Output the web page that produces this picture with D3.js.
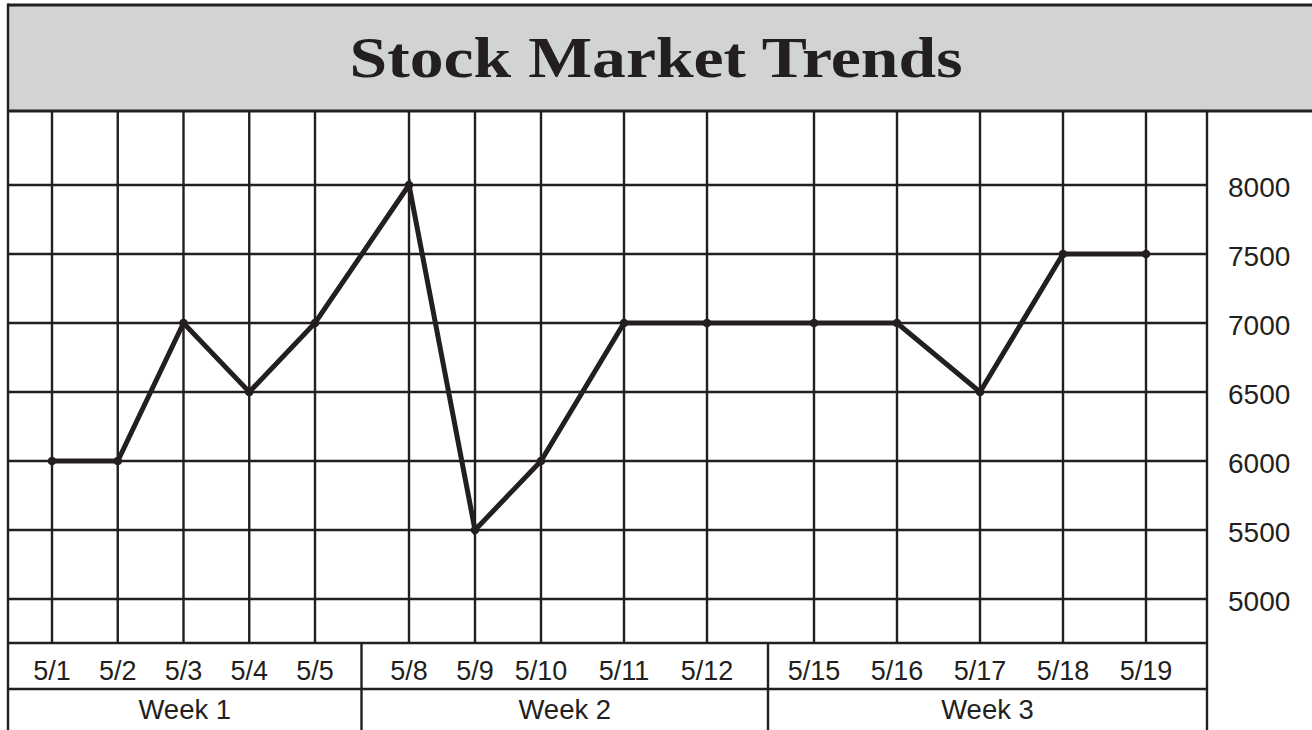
<!DOCTYPE html>
<html>
<head>
<meta charset="utf-8">
<script src="https://cdn.jsdelivr.net/npm/d3@7"></script>
<style>
  html, body { margin: 0; padding: 0; background: #ffffff; }
  svg { display: block; }
</style>
</head>
<body>
<svg id="chart" width="1312" height="730"></svg>
<script>
// ---- data ----
const title = "Stock Market Trends";
const dates = ["5/1", "5/2", "5/3", "5/4", "5/5",
               "5/8", "5/9", "5/10", "5/11", "5/12",
               "5/15", "5/16", "5/17", "5/18", "5/19"];
const values = [6000, 6000, 7000, 6500, 7000,
                8000, 5500, 6000, 7000, 7000,
                7000, 7000, 6500, 7500, 7500];
const weeks = ["Week 1", "Week 2", "Week 3"];
const yTicks = [5000, 5500, 6000, 6500, 7000, 7500, 8000];

// ---- layout ----
const W = 1312, H = 730;
const ink = "#231f20";
const band = "#d1d3d4";
const frameLeft = 8, frameTop = 5;
const titleBottom = 111;
const plotRight = 1207, plotBottom = 643;
const dateRowBottom = 689;
const weekEdges = [frameLeft, 361.5, 768, plotRight];
const gridW = 2.4;

const svg = d3.select("#chart");

// day positions along the sheet: the first two weeks are tighter than the last
const x = d3.scaleLinear()
  .domain([0, 4, 5, 7, 9, 10, 14])
  .range([52, 315, 409, 541, 707, 814, 1146]);
const y = d3.scaleLinear()
  .domain([5000, 8000])
  .range([599, 185]);

// title band
svg.append("rect")
  .attr("x", frameLeft).attr("y", frameTop)
  .attr("width", W - frameLeft).attr("height", titleBottom - frameTop)
  .attr("fill", band);

svg.append("text")
  .attr("x", W / 2).attr("y", 77)
  .attr("text-anchor", "middle")
  .attr("font-family", "'Liberation Serif', 'DejaVu Serif', serif")
  .attr("font-weight", "bold")
  .attr("font-size", 57)
  .attr("textLength", 613)
  .attr("lengthAdjust", "spacingAndGlyphs")
  .attr("fill", ink)
  .text(title);

const g = svg.append("g")
  .attr("stroke", ink)
  .attr("stroke-width", gridW)
  .attr("fill", "none");

// horizontal grid lines at each value level
g.selectAll("line.h")
  .data(yTicks)
  .join("line")
  .attr("class", "h")
  .attr("x1", frameLeft).attr("x2", plotRight)
  .attr("y1", d => y(d)).attr("y2", d => y(d));

// vertical grid lines at each trading day
g.selectAll("line.v")
  .data(dates)
  .join("line")
  .attr("class", "v")
  .attr("x1", (d, i) => x(i)).attr("x2", (d, i) => x(i))
  .attr("y1", titleBottom).attr("y2", plotBottom);

// frame
g.append("line").attr("x1", frameLeft).attr("x2", W)
  .attr("y1", frameTop).attr("y2", frameTop).attr("stroke-width", 3);
g.append("line").attr("x1", frameLeft).attr("x2", W)
  .attr("y1", titleBottom).attr("y2", titleBottom).attr("stroke-width", 3);
g.append("line").attr("x1", frameLeft).attr("x2", frameLeft)
  .attr("y1", frameTop - 1.5).attr("y2", H);
g.append("line").attr("x1", plotRight).attr("x2", plotRight)
  .attr("y1", titleBottom).attr("y2", H);
g.append("line").attr("x1", frameLeft).attr("x2", plotRight)
  .attr("y1", plotBottom).attr("y2", plotBottom);
g.append("line").attr("x1", frameLeft).attr("x2", plotRight)
  .attr("y1", dateRowBottom).attr("y2", dateRowBottom);

// week dividers in the label rows
g.selectAll("line.wk")
  .data(weekEdges.slice(1, -1))
  .join("line")
  .attr("class", "wk")
  .attr("x1", d => d).attr("x2", d => d)
  .attr("y1", plotBottom).attr("y2", H);

// value axis on the right
const yAxis = d3.axisRight(y)
  .tickValues(yTicks)
  .tickSize(0)
  .tickPadding(21)
  .tickFormat(d3.format("d"));
const ya = svg.append("g")
  .attr("transform", `translate(${plotRight},0)`)
  .call(yAxis);
ya.select(".domain").remove();
ya.selectAll("text")
  .attr("font-family", "'Liberation Sans', Arial, sans-serif")
  .attr("font-size", 28)
  .attr("fill", ink)
  .attr("dy", "0.4em");

// date labels
svg.append("g").selectAll("text")
  .data(dates)
  .join("text")
  .attr("x", (d, i) => x(i))
  .attr("y", 680)
  .attr("text-anchor", "middle")
  .attr("font-family", "'Liberation Sans', Arial, sans-serif")
  .attr("font-size", 27)
  .attr("fill", ink)
  .text(d => d);

// week labels
svg.append("g").selectAll("text")
  .data(weeks)
  .join("text")
  .attr("x", (d, i) => (weekEdges[i] + weekEdges[i + 1]) / 2)
  .attr("y", 719)
  .attr("text-anchor", "middle")
  .attr("font-family", "'Liberation Sans', Arial, sans-serif")
  .attr("font-size", 27.5)
  .attr("fill", ink)
  .text(d => d);

// price line
const line = d3.line()
  .x((d, i) => x(i))
  .y(d => y(d));
svg.append("path")
  .datum(values)
  .attr("d", line)
  .attr("fill", "none")
  .attr("stroke", ink)
  .attr("stroke-width", 5)
  .attr("stroke-linejoin", "miter")
  .attr("stroke-miterlimit", 3);

svg.append("g").selectAll("circle")
  .data(values)
  .join("circle")
  .attr("cx", (d, i) => x(i))
  .attr("cy", d => y(d))
  .attr("r", 4.3)
  .attr("fill", ink);
</script>
</body>
</html>
